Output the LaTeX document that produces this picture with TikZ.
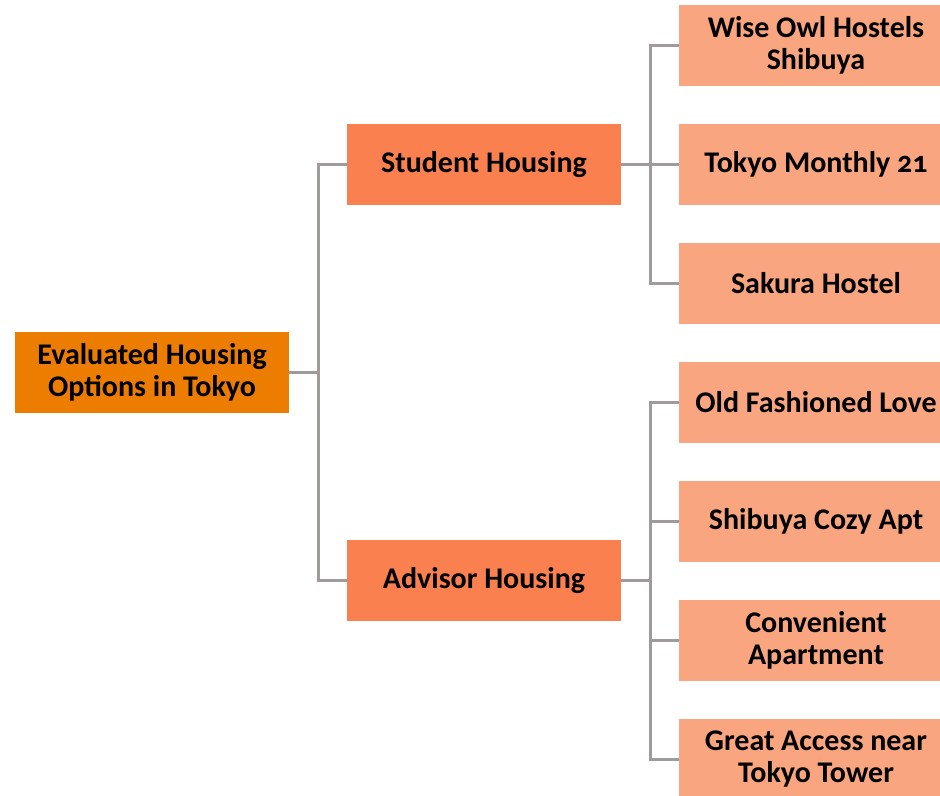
\documentclass[tikz,border=0pt]{standalone}
\usepackage{fontspec}
\setmainfont[Numbers=OldStyle]{Carlito}
\usepackage{tikz}

\definecolor{rootc}{HTML}{ED7D00}
\definecolor{midc}{HTML}{FA8050}
\definecolor{leafc}{HTML}{F9A57F}
\definecolor{linec}{HTML}{A09A9A}

\tikzset{
  box/.style={minimum width=205.5pt, minimum height=60.75pt, inner sep=0pt, align=center,
    font=\fontsize{22.5}{24}\selectfont\bfseries},
  rootbox/.style={box, fill=rootc},
  midbox/.style={box, fill=midc},
  leafbox/.style={box, fill=leafc},
  link/.style={draw=linec, line width=1.9pt}
}

\begin{document}
\begin{tikzpicture}[x=0.75pt,y=-0.75pt]
    \useasboundingbox (0,0) rectangle (940,796);
    \node[rootbox] (root) at (152,372.5) {Evaluated Housing\\Options in Tokyo};
    \node[midbox] (stu) at (484,164.5) {Student Housing};
    \node[midbox] (adv) at (484,580.5) {Advisor Housing};
    \node[leafbox] (wise) at (816,45.5) {Wise Owl Hostels\\Shibuya};
    \node[leafbox] (monthly) at (816,164.5) {Tokyo Monthly 21};
    \node[leafbox] (sakura) at (816,283.5) {Sakura Hostel};
    \node[leafbox] (oldlove) at (816,402.5) {Old Fashioned Love};
    \node[leafbox] (cozy) at (816,521.5) {Shibuya Cozy Apt};
    \node[leafbox] (conv) at (816,640.5) {Convenient\\Apartment};
    \node[leafbox] (tower) at (816,759.5) {Great Access near\\Tokyo Tower};
    \draw[link] (root.east) -- ++(29,0) |- (stu.west);
    \draw[link] (root.east) -- ++(29,0) |- (adv.west);
    \foreach \leaf in {wise,monthly,sakura}
      \draw[link] (stu.east) -- ++(29,0) |- (\leaf.west);
    \foreach \leaf in {oldlove,cozy,conv,tower}
      \draw[link] (adv.east) -- ++(29,0) |- (\leaf.west);
  \end{tikzpicture}
\end{document}
